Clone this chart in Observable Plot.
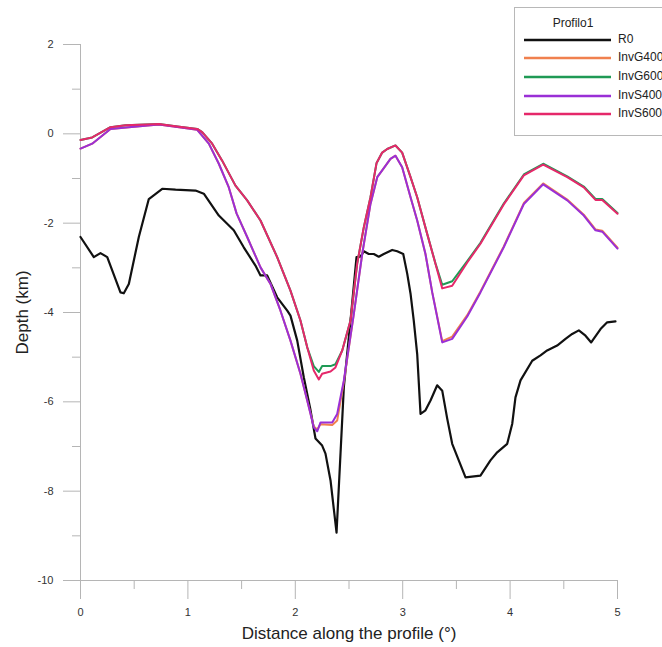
<!DOCTYPE html>
<html>
<head>
<meta charset="utf-8">
<script src="https://cdn.jsdelivr.net/npm/d3@7"></script>
<script src="https://cdn.jsdelivr.net/npm/@observablehq/plot@0.6"></script>
<style>
  html, body { margin: 0; padding: 0; background: #fff; }
  #wrap { position: relative; width: 662px; height: 647px; overflow: hidden; font-family: "Liberation Sans", Arial, sans-serif; }
  #legend { position: absolute; left: 514px; top: 7px; width: 170px; height: 129px; border: 1px solid #b8b8b8; background: #fff; box-sizing: border-box; }
</style>
</head>
<body>
<div id="wrap"><div id="legend"></div></div>
<script>
// Profile "Profilo1": depth (km) along the profile distance (degrees)
const seriesNames = ["R0", "InvG400", "InvG600", "InvS400", "InvS600"];
const seriesColors = ["#111111", "#f0804e", "#1f9a55", "#9a2fd6", "#e5286a"];

const r0Dist = [0, 0.124, 0.186, 0.249, 0.372, 0.403, 0.45, 0.543, 0.636, 0.761, 0.885, 1.071, 1.148, 1.288, 1.427, 1.52, 1.629, 1.676, 1.738, 1.831, 1.925, 1.955, 2.018, 2.079, 2.142, 2.188, 2.25, 2.281, 2.328, 2.384, 2.452, 2.514, 2.57, 2.607, 2.638, 2.684, 2.731, 2.777, 2.824, 2.902, 2.949, 3.005, 3.042, 3.073, 3.103, 3.135, 3.166, 3.212, 3.259, 3.321, 3.368, 3.414, 3.461, 3.522, 3.585, 3.724, 3.817, 3.88, 3.973, 4.02, 4.05, 4.097, 4.206, 4.283, 4.345, 4.438, 4.516, 4.578, 4.64, 4.702, 4.755, 4.842, 4.904, 4.981];
const r0Depth = [-2.31, -2.76, -2.67, -2.76, -3.55, -3.57, -3.36, -2.31, -1.46, -1.23, -1.25, -1.27, -1.34, -1.83, -2.16, -2.54, -2.95, -3.17, -3.17, -3.66, -3.96, -4.07, -4.63, -5.45, -6.19, -6.82, -6.98, -7.16, -7.76, -8.93, -5.67, -4.18, -2.76, -2.75, -2.63, -2.69, -2.69, -2.75, -2.69, -2.6, -2.63, -2.69, -3.13, -3.58, -4.18, -4.93, -6.27, -6.19, -5.97, -5.63, -5.75, -6.37, -6.94, -7.31, -7.69, -7.65, -7.31, -7.13, -6.94, -6.49, -5.9, -5.52, -5.08, -4.96, -4.85, -4.74, -4.59, -4.48, -4.4, -4.52, -4.67, -4.37, -4.22, -4.2];

// Inversions with the 600 setting share one set of stations
const inv600Dist = [0, 0.109, 0.279, 0.419, 0.729, 0.885, 1.087, 1.133, 1.226, 1.319, 1.443, 1.552, 1.676, 1.831, 1.955, 2.048, 2.111, 2.172, 2.219, 2.25, 2.328, 2.374, 2.437, 2.514, 2.576, 2.638, 2.7, 2.756, 2.809, 2.856, 2.933, 2.995, 3.073, 3.135, 3.228, 3.305, 3.368, 3.461, 3.601, 3.724, 3.941, 4.128, 4.308, 4.532, 4.686, 4.795, 4.858, 5.0];
const invG600Depth = [-0.14, -0.08, 0.15, 0.19, 0.22, 0.17, 0.11, 0.04, -0.22, -0.6, -1.16, -1.49, -1.94, -2.76, -3.51, -4.18, -4.78, -5.2, -5.33, -5.2, -5.2, -5.16, -4.85, -4.18, -2.91, -2.09, -1.42, -0.66, -0.42, -0.34, -0.26, -0.42, -0.97, -1.42, -2.24, -2.9, -3.38, -3.3, -2.85, -2.44, -1.56, -0.91, -0.67, -0.95, -1.18, -1.46, -1.46, -1.77];
const invS600Depth = [-0.14, -0.08, 0.15, 0.19, 0.22, 0.17, 0.11, 0.04, -0.22, -0.6, -1.16, -1.49, -1.94, -2.76, -3.51, -4.18, -4.78, -5.3, -5.5, -5.37, -5.32, -5.23, -4.85, -4.18, -2.91, -2.09, -1.42, -0.66, -0.42, -0.34, -0.26, -0.42, -0.97, -1.42, -2.24, -2.91, -3.46, -3.4, -2.88, -2.46, -1.58, -0.93, -0.69, -0.97, -1.2, -1.48, -1.48, -1.79];

// Inversions with the 400 setting
const inv400Dist = [0, 0.109, 0.279, 0.45, 0.729, 0.885, 1.087, 1.195, 1.288, 1.381, 1.453, 1.552, 1.676, 1.769, 1.862, 1.955, 2.048, 2.111, 2.172, 2.204, 2.235, 2.344, 2.39, 2.452, 2.545, 2.623, 2.7, 2.763, 2.809, 2.886, 2.933, 2.995, 3.073, 3.135, 3.212, 3.275, 3.368, 3.461, 3.601, 3.724, 3.941, 4.128, 4.308, 4.532, 4.686, 4.795, 4.858, 5.0];
const invG400Depth = [-0.33, -0.22, 0.11, 0.15, 0.21, 0.16, 0.09, -0.22, -0.67, -1.2, -1.78, -2.31, -2.99, -3.36, -3.96, -4.63, -5.37, -5.97, -6.55, -6.62, -6.5, -6.52, -6.42, -5.55, -4.03, -2.69, -1.57, -0.97, -0.82, -0.56, -0.49, -0.75, -1.42, -1.94, -2.69, -3.55, -4.64, -4.54, -4.06, -3.53, -2.52, -1.55, -1.11, -1.47, -1.81, -2.14, -2.17, -2.55];
const invS400Depth = [-0.33, -0.22, 0.11, 0.15, 0.21, 0.16, 0.09, -0.22, -0.67, -1.2, -1.78, -2.31, -2.99, -3.36, -3.96, -4.63, -5.37, -5.97, -6.57, -6.66, -6.46, -6.46, -6.27, -5.52, -4.03, -2.69, -1.57, -0.97, -0.82, -0.56, -0.49, -0.75, -1.42, -1.94, -2.69, -3.55, -4.67, -4.59, -4.09, -3.55, -2.54, -1.57, -1.13, -1.49, -1.83, -2.16, -2.19, -2.57];

const xMajorTicks = [0, 1, 2, 3, 4, 5];
const xMinorTicks = [0.5, 1.5, 2.5, 3.5, 4.5];
const yMajorTicks = [2, 0, -2, -4, -6, -8, -10];
const yMinorTicks = [1, -1, -3, -5, -7, -9];

const xTitle = "Distance along the profile (°)";
const yTitle = "Depth (km)";
const legendTitle = "Profilo1";

const toRows = (xs, ys) => xs.map((d, i) => ({dist: d, depth: ys[i]}));
const series = [
  toRows(r0Dist, r0Depth),
  toRows(inv400Dist, invG400Depth),
  toRows(inv600Dist, invG600Depth),
  toRows(inv400Dist, invS400Depth),
  toRows(inv600Dist, invS600Depth)
];

const axisColor = "#b5b5b5";
const font = '"Liberation Sans", Arial, sans-serif';
const plainNumber = (d) => String(d);

const chart = Plot.plot({
  width: 662,
  height: 647,
  marginLeft: 80,
  marginRight: 45,
  marginTop: 44,
  marginBottom: 67,
  style: {fontFamily: font, fontSize: "11px", color: "#333", background: "transparent", overflow: "visible"},
  x: {domain: [0, 5]},
  y: {domain: [-10, 2]},
  marks: [
    Plot.ruleX([0], {y1: -10, y2: 2, stroke: axisColor}),
    Plot.ruleY([-10], {x1: 0, x2: 5, stroke: axisColor}),
    Plot.axisX(xMajorTicks, {tickSize: 19, tickPadding: 9, stroke: axisColor, label: null, fill: "#333", tickFormat: plainNumber}),
    Plot.axisX(xMinorTicks, {tickSize: 9, stroke: axisColor, label: null, tickFormat: () => ""}),
    Plot.axisY(yMajorTicks, {tickSize: 17, tickPadding: 10, stroke: axisColor, label: null, fill: "#333", tickFormat: plainNumber}),
    Plot.axisY(yMinorTicks, {tickSize: 8, stroke: axisColor, label: null, tickFormat: () => ""}),
    ...series.map((rows, i) => Plot.line(rows, {
      x: "dist", y: "depth", stroke: seriesColors[i],
      strokeWidth: i === 0 ? 2.2 : 2, strokeLinejoin: "round"
    })),
    Plot.text([xTitle], {frameAnchor: "bottom", dy: 53, lineAnchor: "middle", fontSize: 17, fill: "#222"}),
    Plot.text([yTitle], {frameAnchor: "left", dx: -58, rotate: -90, lineAnchor: "middle", textAnchor: "middle", fontSize: 17, fill: "#222"})
  ]
});

const wrap = document.getElementById("wrap");
chart.style.position = "absolute";
chart.style.left = "0";
chart.style.top = "0";
wrap.insertBefore(chart, wrap.firstChild);

// Legend box (its right side runs past the page edge)
const legend = d3.select("#legend").append("svg")
  .attr("width", 170).attr("height", 129)
  .style("font-family", font).style("font-size", "12px");
legend.append("text").attr("x", 58).attr("y", 16)
  .attr("text-anchor", "middle").attr("dominant-baseline", "middle")
  .attr("fill", "#222").text(legendTitle);
const rowY = [32, 50, 69, 88, 106];
seriesNames.forEach((name, i) => {
  legend.append("line").attr("x1", 9).attr("x2", 96)
    .attr("y1", rowY[i]).attr("y2", rowY[i])
    .attr("stroke", seriesColors[i]).attr("stroke-width", 2.5);
  legend.append("text").attr("x", 103).attr("y", rowY[i])
    .attr("dominant-baseline", "middle").attr("fill", "#222").text(name);
});
</script>
</body>
</html>
